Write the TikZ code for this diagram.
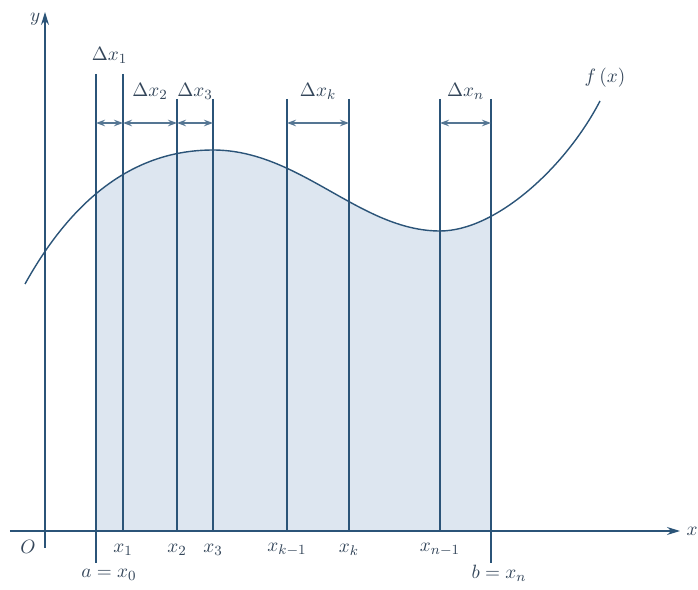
\documentclass[tikz,border=0pt]{standalone}
\usepackage{amsmath}
\usepackage{tikz}
\usetikzlibrary{arrows.meta,calc}
\definecolor{linea}{HTML}{2B5478}
\definecolor{area}{HTML}{DDE6F0}
\definecolor{testo}{HTML}{34465A}

\begin{document}
\begin{tikzpicture}[font=\fontsize{11}{13}\selectfont, every node/.style={text=testo},
  divline/.style={linea, line width=0.8pt},
  dimline/.style={linea!80, line width=0.7pt, {Stealth[length=1.8mm,width=1.3mm]}-{Stealth[length=1.8mm,width=1.3mm]}},
  axisline/.style={linea, line width=0.8pt, -{Stealth[length=2.6mm,width=1.6mm]}}]
\useasboundingbox (-0.9,-1.18) rectangle (13.06,10.62);
% area sotto la curva tra a e b
\begin{scope}
  \clip (1.02,0) rectangle (8.92,10);
  \fill[area] (-0.4,4.94) .. controls (0.8,7.1) and (2.2,7.62) .. (3.36,7.62)
    .. controls (5.1,7.62) and (6.3,6.0) .. (7.9,6.0)
    .. controls (9.0,6.0) and (10.4,7.25) .. (11.1,8.6) |- (-0.4,0) -- cycle;
\end{scope}
% linee della partizione
\foreach \n/\x/\top/\bot in {0/1.02/9.14/-0.64, 1/1.56/9.14/0, 2/2.64/8.64/0, 3/3.36/8.64/0, km/4.84/8.64/0, k/6.08/8.64/0, nm/7.90/8.64/0, n/8.92/8.64/-0.64}{
  \coordinate (top\n) at (\x,\top);
  \coordinate (bot\n) at (\x,\bot);
  \coordinate (d\n) at (\x,8.16);
  \draw[divline] (top\n) -- (bot\n);
}
% curva f(x)
\draw[linea, line width=0.8pt] (-0.4,4.94) .. controls (0.8,7.1) and (2.2,7.62) .. (3.36,7.62)
  .. controls (5.1,7.62) and (6.3,6.0) .. (7.9,6.0)
  .. controls (9.0,6.0) and (10.4,7.25) .. (11.1,8.6);
\node (fx) at (11.2,9.06) {$f\,(x)$};
% assi
\coordinate (O) at (0,0);
\draw[axisline] (-0.7,0) -- (12.7,0) node[right] (xlab) {$x$};
\draw[axisline] (0,-0.34) -- (0,10.38) node[left, xshift=1pt, yshift=-4pt] (ylab) {$y$};
\node (olab) at (-0.34,-0.32) {$O$};
% frecce Delta x
\draw[dimline] (d0) -- (d1);
\draw[dimline] (d1) -- (d2);
\draw[dimline] (d2) -- (d3);
\draw[dimline] (dkm) -- (dk);
\draw[dimline] (dnm) -- (dn);
\node (dx1) at ($(d0)!0.5!(d1)+(0,1.36)$) {$\Delta x_1$};
\node (dx2) at ($(d1)!0.5!(d2)+(0,0.64)$) {$\Delta x_2$};
\node (dx3) at ($(d2)!0.5!(d3)+(0,0.64)$) {$\Delta x_3$};
\node (dxk) at ($(dkm)!0.5!(dk)+(0,0.64)$) {$\Delta x_k$};
\node (dxn) at ($(dnm)!0.5!(dn)+(0,0.64)$) {$\Delta x_n$};
% etichette sull'asse x
\node (l1) at ($(bot1)+(0,-0.38)$) {$x_1$};
\node (l2) at ($(bot2)+(0,-0.38)$) {$x_2$};
\node (l3) at ($(bot3)+(0,-0.38)$) {$x_3$};
\node (lkm) at ($(botkm)+(0,-0.38)$) {$x_{k-1}$};
\node (lk) at ($(botk)+(0,-0.38)$) {$x_k$};
\node (lnm) at ($(botnm)+(0,-0.38)$) {$x_{n-1}$};
\node (la) at (1.28,-0.88) {$a=x_0$};
\node (lb) at (9.08,-0.84) {$b=x_n$};
\end{tikzpicture}
\end{document}
